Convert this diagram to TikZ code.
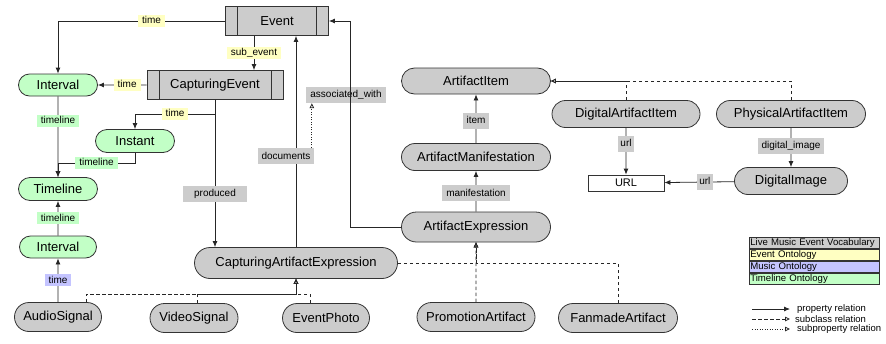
\documentclass[tikz,border=0pt]{standalone}
\usepackage{fontspec}
\setmainfont{Liberation Sans}
\usetikzlibrary{arrows.meta,shapes.misc,positioning}
\definecolor{lmgray}{RGB}{204,204,204}
\definecolor{evyellow}{RGB}{255,255,194}
\definecolor{moblue}{RGB}{196,196,255}
\definecolor{tlgreen}{RGB}{194,255,198}

\begin{document}
\begin{tikzpicture}[x=1pt, y=-1pt,
    every node/.style={font=\fontsize{13}{15}\selectfont},
    cls/.style={draw=black!80, line width=0.8pt, rounded rectangle, fill=lmgray, minimum height=29pt, inner xsep=2pt, inner ysep=0pt},
    tlcls/.style={cls, fill=tlgreen, minimum height=23pt},
    evt/.style={draw=black!80, line width=0.8pt, rectangle, fill=lmgray, minimum height=29pt,
        path picture={\draw[line width=0.8pt, black!80]
            ([xshift=12pt]path picture bounding box.north west) -- ([xshift=12pt]path picture bounding box.south west)
            ([xshift=-12pt]path picture bounding box.north east) -- ([xshift=-12pt]path picture bounding box.south east);}},
    lbl/.style={font=\fontsize{10}{12}\selectfont, inner xsep=4pt, inner ysep=0pt, text height=7.5pt, text depth=2pt, minimum height=12pt},
    lvlbl/.style={lbl, fill=lmgray, minimum height=16pt},
    evlbl/.style={lbl, fill=evyellow},
    molbl/.style={lbl, fill=moblue},
    tllbl/.style={lbl, fill=tlgreen},
    prop/.style={draw=black!85, line width=0.8pt, -{Latex[length=6pt,width=5pt]}},
    subcls/.style={draw=black!85, line width=0.8pt, dash pattern=on 3.5pt off 2.5pt, -{Triangle[open,length=5pt,width=4.5pt]}},
    subprp/.style={draw=black!85, line width=0.8pt, dash pattern=on 1pt off 1.5pt, -{Triangle[open,length=5pt,width=4.5pt]}},
    lgrow/.style={draw=black!80, line width=0.6pt, text width=128pt, inner xsep=1pt, inner ysep=0.5pt, text height=8pt, text depth=2.3pt, align=left, execute at begin node={\hyphenpenalty=10000}, font=\fontsize{9.6}{11}\selectfont},
    lgkey/.style={anchor=west, inner xsep=1pt, font=\fontsize{9.5}{11}\selectfont}]
    \useasboundingbox (0,0) rectangle (886,343);

    \node (event) [evt, minimum width=103pt] at (277,21) {Event};
    \node (captevent) [evt, minimum width=136pt] at (215,85) {CapturingEvent};
    \node (interval) [tlcls, minimum width=83pt, minimum height=22pt] at (58,85) {Interval};
    \node (instant) [tlcls, minimum width=83pt] at (135,141) {Instant};
    \node (timeline) [tlcls, minimum width=83pt] at (58,189) {Timeline};
    \node (sigint) [tlcls, minimum width=81pt, minimum height=22pt] at (58,247) {Interval};
    \node (audio) [cls, minimum width=91pt] at (58,317) {AudioSignal};
    \node (video) [cls, minimum width=92pt] at (194,318) {VideoSignal};
    \node (photo) [cls, minimum width=91pt] at (326,318) {EventPhoto};
    \node (captexpr) [cls, minimum width=207pt, minimum height=31pt] at (296,263) {CapturingArtifactExpression};
    \node (artexpr) [cls, minimum width=153pt, minimum height=30pt] at (476,227) {ArtifactExpression};
    \node (artmanif) [cls, minimum width=153pt, minimum height=27pt] at (476,157) {ArtifactManifestation};
    \node (artitem) [cls, minimum width=153pt, minimum height=26pt] at (476,81) {ArtifactItem};
    \node (digitem) [cls, minimum width=152pt, minimum height=27pt] at (626,114) {DigitalArtifactItem};
    \node (physitem) [cls, minimum width=153pt, minimum height=27pt] at (791,114) {PhysicalArtifactItem};
    \node (url) [draw=black!80, line width=0.8pt, rectangle, fill=white, minimum width=76pt, minimum height=16pt, inner sep=0pt, font=\fontsize{11}{13}\selectfont] at (626,183) {URL};
    \node (digimage) [cls, minimum width=117pt, minimum height=27pt] at (791,181) {DigitalImage};
    \node (promo) [cls, minimum width=122pt] at (476,317) {PromotionArtifact};
    \node (fanmade) [cls, minimum width=123pt] at (618,318) {FanmadeArtifact};

    \draw[prop] (event.west) -| node[evlbl, pos=0.22] {time} (interval);
    \draw[prop] ([xshift=-23pt]event.south) -- node[evlbl] {sub\_event} ([xshift=-23pt]event.south |- captevent.north);
    \draw[prop] (captevent) -- node[evlbl, pos=0.4] {time} (interval);
    \draw[prop] (captevent.south) -- ++(0,14) -| node[evlbl, pos=0.25] {time} (instant);
    \draw[prop] (interval) -- node[tllbl, pos=0.3] {timeline} (timeline);
    \draw[prop] (instant.south) -- ++(0,10) -| node[tllbl, pos=0.25] {timeline} (timeline.north);
    \draw[prop] (sigint) -- node[tllbl] {timeline} (timeline);
    \draw[prop] (audio) -- node[molbl] {time} (sigint);
    \draw[prop] (captevent.south) -- node[lvlbl, pos=0.64, minimum width=64pt] {produced} (captevent.south |- captexpr.north);
    \draw[prop] (captexpr.north) -- node[lvlbl, pos=0.43, xshift=-10pt] (docs) {documents} (captexpr.north |- event.south);
    \node (assoc) [lvlbl] at (346,95) {associated\_with};
    \draw[subprp] ([xshift=-3pt]docs.north east) -- ([xshift=-3pt]docs.north east |- assoc.south);
    \draw[prop] (artexpr.west) -- ++(-51,0) |- (event.east);
    \draw[prop] (artexpr) -- node[lvlbl, pos=0.45] {manifestation} (artmanif);
    \draw[prop] (artmanif) -- node[lvlbl, pos=0.45] {item} (artitem);
    \draw[subcls] (digitem.north) |- (artitem.east);
    \draw[subcls] (physitem.north) |- (artitem.east);
    \draw[prop] (digitem) -- node[lvlbl, pos=0.34, inner xsep=2.5pt] {url} (url);
    \draw[prop] (physitem) -- node[lvlbl, pos=0.45] {digital\_image} (digimage);
    \draw[prop] (digimage) -- node[lvlbl, pos=0.42, inner xsep=2.5pt] {url} (url);
    \draw[subcls] (promo) -- (artexpr);
    \draw[subcls] (captexpr.east) -| (artexpr.south);
    \draw[subcls] (fanmade.north) -- (fanmade.north |- captexpr.east) -| (artexpr.south);
    \draw[subcls] ([xshift=28pt]audio.north) -- ++(0,-8) -| (captexpr.south);
    \draw[subcls] ([xshift=3pt]video.north) -- ++(0,-9) -| (captexpr.south);
    \draw[subcls] ([xshift=-16pt]photo.north) -- ++(0,-9) -| (captexpr.south);

    \node (lgvoc) [lgrow, fill=lmgray, anchor=north west] at (749,237) {Live Music Event Vocabulary};
    \node (lgev) [lgrow, fill=evyellow, below=0pt of lgvoc] {Event Ontology};
    \node (lgmo) [lgrow, fill=moblue, below=0pt of lgev] {Music Ontology};
    \node (lgtl) [lgrow, fill=tlgreen, below=0pt of lgmo] {Timeline Ontology};
    \coordinate (pka) at (752,309);
    \coordinate (pkb) at (790,309);
    \coordinate (ska) at (752,319);
    \coordinate (skb) at (790,319);
    \coordinate (spa) at (752,329);
    \coordinate (spb) at (790,329);
    \draw[prop] (pka) -- (pkb);
    \draw[subcls] (ska) -- (skb);
    \draw[subprp] (spa) -- (spb);
    \node (pktext) [lgkey] at (796,309) {property relation};
    \node (sktext) [lgkey] at (794,319) {subclass relation};
    \node (sptext) [lgkey] at (796,329) {subproperty relation};
\end{tikzpicture}
\end{document}
